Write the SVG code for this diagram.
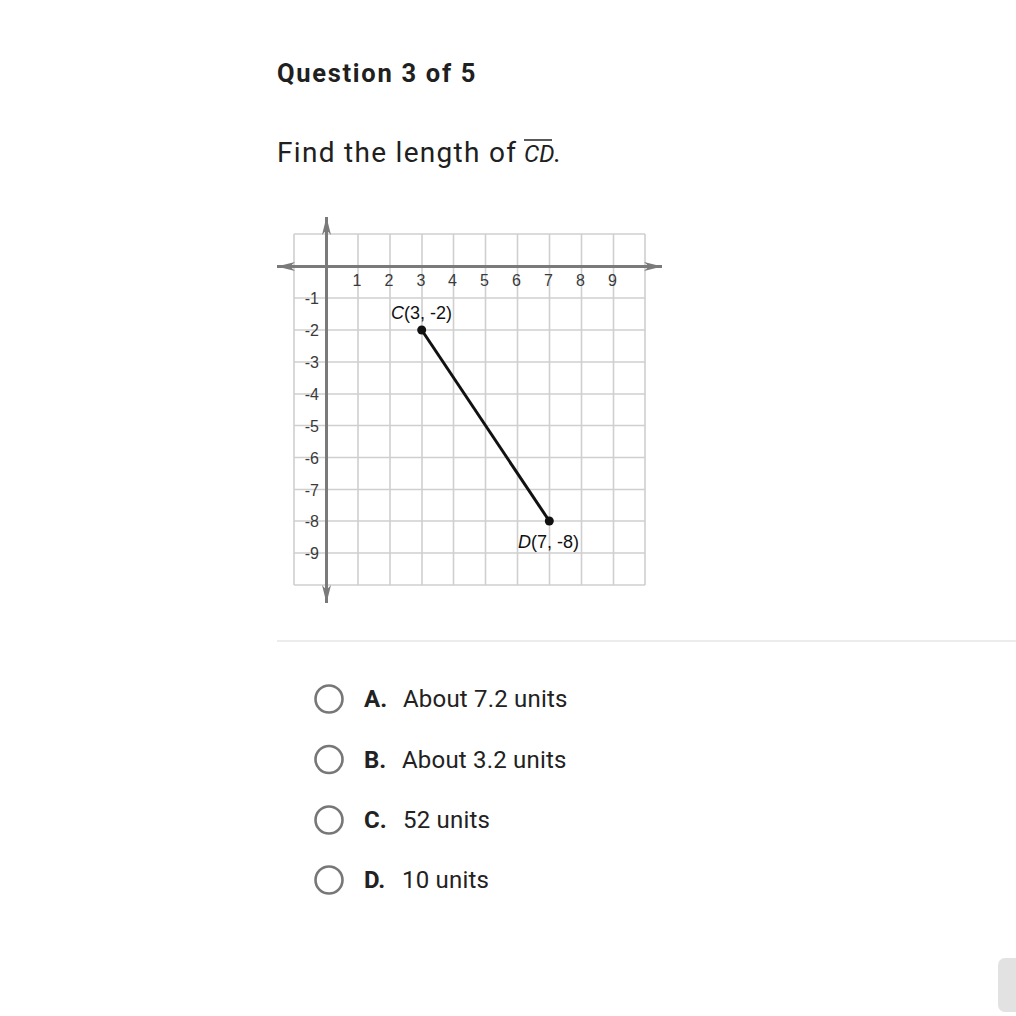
<svg xmlns="http://www.w3.org/2000/svg" width="1016" height="1016" viewBox="0 0 1016 1016">
<style>
.ui{font-family:Roboto,"Liberation Sans",sans-serif;fill:#202020}
.grid line{stroke:#cfcfcf;stroke-width:1.6}
.axis{stroke:#7a7a7a;stroke-width:3}
.tick{font-family:"Liberation Sans",Arial,sans-serif;font-size:16px;fill:#3a3a3a}
.lbl{font-family:"Liberation Sans",Arial,sans-serif;font-size:18px;fill:#111}
.radio{fill:#fff;stroke:#777;stroke-width:2.6}
.opt{font-family:Roboto,"Liberation Sans",sans-serif;font-size:24px;fill:#222}
.key{font-weight:bold}
</style>
<defs>
<marker id="ah" viewBox="-18 -5 19 10" refX="0" refY="0" markerWidth="19" markerHeight="10" orient="auto" markerUnits="userSpaceOnUse">
<path d="M0,0 L-18,-4.5 L-13,0 L-18,4.5 Z" fill="#7a7a7a"/>
</marker>
</defs>
<rect width="1016" height="1016" fill="#fff"/>
<g id="header">
<text class="ui" x="277" y="82" font-size="25.5" font-weight="bold" letter-spacing="1.7" fill="#141414">Question 3 of 5</text>
<text class="ui" x="277" y="162" font-size="28" letter-spacing="1.3">Find the length of</text>
<text class="ui" x="524" y="162" font-size="24" font-style="italic">CD</text>
<text class="ui" x="553" y="162" font-size="28">.</text>
<line x1="524" y1="140" x2="552" y2="140" stroke="#222" stroke-width="1.5"/>
</g>
<g id="graph">
<g class="grid">
<line x1="294" y1="234" x2="294" y2="585"/><line x1="358" y1="234" x2="358" y2="585"/><line x1="390" y1="234" x2="390" y2="585"/><line x1="422" y1="234" x2="422" y2="585"/><line x1="453.5" y1="234" x2="453.5" y2="585"/><line x1="485.5" y1="234" x2="485.5" y2="585"/><line x1="517.5" y1="234" x2="517.5" y2="585"/><line x1="549.5" y1="234" x2="549.5" y2="585"/><line x1="581.5" y1="234" x2="581.5" y2="585"/><line x1="613.5" y1="234" x2="613.5" y2="585"/><line x1="645" y1="234" x2="645" y2="585"/>
<line x1="294" y1="234" x2="645" y2="234"/><line x1="294" y1="298" x2="645" y2="298"/><line x1="294" y1="330" x2="645" y2="330"/><line x1="294" y1="362" x2="645" y2="362"/><line x1="294" y1="394" x2="645" y2="394"/><line x1="294" y1="425.5" x2="645" y2="425.5"/><line x1="294" y1="457.5" x2="645" y2="457.5"/><line x1="294" y1="489.5" x2="645" y2="489.5"/><line x1="294" y1="521" x2="645" y2="521"/><line x1="294" y1="553" x2="645" y2="553"/><line x1="294" y1="585" x2="645" y2="585"/>
</g>
<line class="axis" x1="300" y1="266.5" x2="277" y2="266.5" marker-end="url(#ah)"/>
<line class="axis" x1="300" y1="266.5" x2="662" y2="266.5" marker-end="url(#ah)"/>
<line class="axis" x1="326.5" y1="260" x2="326.5" y2="217" marker-end="url(#ah)"/>
<line class="axis" x1="326.5" y1="260" x2="326.5" y2="603" marker-end="url(#ah)"/>
<g class="tick" text-anchor="middle">
<text x="357" y="286">1</text><text x="389" y="286">2</text><text x="421" y="286">3</text><text x="452.5" y="286">4</text><text x="484.5" y="286">5</text><text x="516.5" y="286">6</text><text x="548.5" y="286">7</text><text x="580.5" y="286">8</text><text x="612.5" y="286">9</text>
</g>
<g class="tick" text-anchor="end">
<text x="319" y="304">-1</text><text x="319" y="336">-2</text><text x="319" y="368">-3</text><text x="319" y="400">-4</text><text x="319" y="431.5">-5</text><text x="319" y="463.5">-6</text><text x="319" y="495.5">-7</text><text x="319" y="527">-8</text><text x="319" y="559">-9</text>
</g>
</g>
<g id="connectors">
<line x1="421.7" y1="330" x2="549.3" y2="521" stroke="#111" stroke-width="3"/>
</g>
<g id="pointC">
<circle cx="421.7" cy="330" r="4.5" fill="#111"/>
<text class="lbl" x="391" y="319"><tspan font-style="italic">C</tspan>(3, -2)</text>
</g>
<g id="pointD">
<circle cx="549.3" cy="521" r="4.5" fill="#111"/>
<text class="lbl" x="518" y="548"><tspan font-style="italic">D</tspan>(7, -8)</text>
</g>
<line x1="277" y1="641" x2="1016" y2="641" stroke="#e6e6e6" stroke-width="1.5"/>
<g id="optA">
<circle class="radio" cx="329" cy="699" r="13.5"/>
<text class="opt" x="364" y="707"><tspan class="key">A.</tspan></text>
<text class="opt" x="403" y="707" letter-spacing="0.2">About 7.2 units</text>
</g>
<g id="optB">
<circle class="radio" cx="329" cy="759.5" r="13.5"/>
<text class="opt" x="364" y="767.5"><tspan class="key">B.</tspan></text>
<text class="opt" x="402" y="767.5" letter-spacing="0.2">About 3.2 units</text>
</g>
<g id="optC">
<circle class="radio" cx="329" cy="820" r="13.5"/>
<text class="opt" x="364" y="828"><tspan class="key">C.</tspan></text>
<text class="opt" x="403" y="828" letter-spacing="0.2">52 units</text>
</g>
<g id="optD">
<circle class="radio" cx="329" cy="880" r="13.5"/>
<text class="opt" x="364" y="888"><tspan class="key">D.</tspan></text>
<text class="opt" x="402" y="888" letter-spacing="0.2">10 units</text>
</g>
<rect x="998" y="958" width="30" height="54" rx="7" fill="#e2e2e2"/>
</svg>
